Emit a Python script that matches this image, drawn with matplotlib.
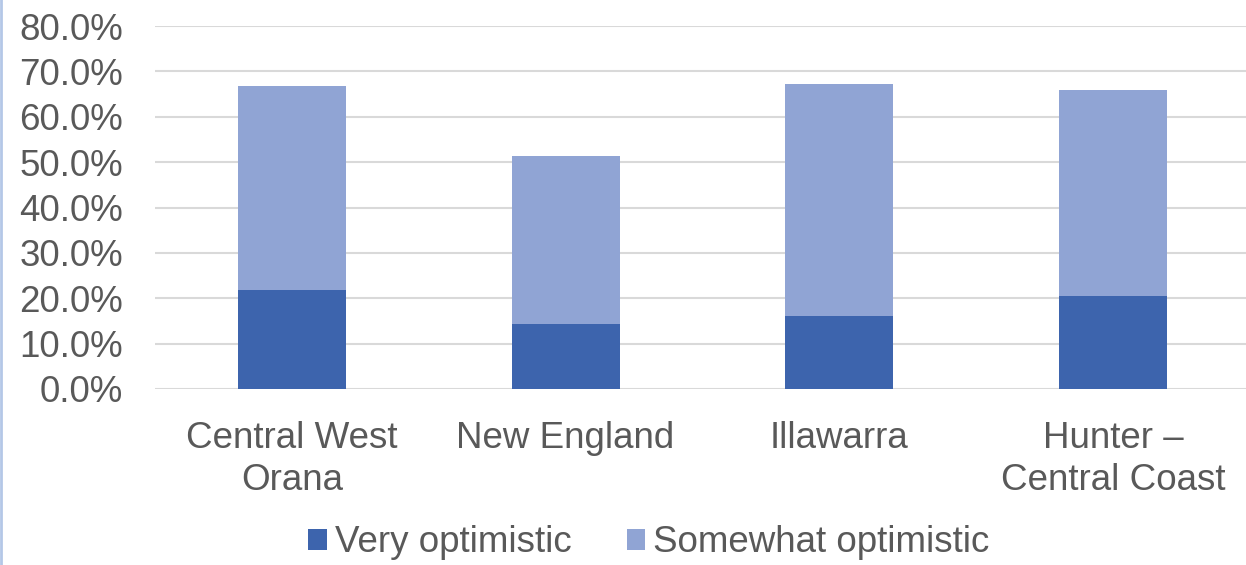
import matplotlib
matplotlib.use("Agg")
import matplotlib.pyplot as plt
from matplotlib.patches import Patch
from matplotlib.lines import Line2D
from matplotlib.ticker import PercentFormatter, MultipleLocator

# Data
regions = ["Central West\nOrana", "New England", "Illawarra", "Hunter \u2013\nCentral Coast"]
very_optimistic = [0.218, 0.143, 0.161, 0.205]
somewhat_optimistic = [0.449, 0.370, 0.511, 0.454]
series_names = ["Very optimistic", "Somewhat optimistic"]

DARK = "#3D64AD"
LIGHT = "#90A4D4"
TEXT = "#595959"
GRID = "#D9D9D9"
FS = 26.5

plt.rcParams["font.family"] = ["Liberation Sans", "DejaVu Sans"]

fig = plt.figure(figsize=(12.46, 5.65), dpi=100)
ax = fig.add_axes([155 / 1246, 1 - 389 / 565, (1246 - 155) / 1246, (389 - 26) / 565])

x = list(range(len(regions)))
ax.bar(x, very_optimistic, width=0.395, color=DARK, zorder=3)
ax.bar(x, somewhat_optimistic, width=0.395, bottom=very_optimistic, color=LIGHT, zorder=3)

ax.set_xlim(-0.5, 3.486)
ax.set_ylim(0, 0.8)
ax.yaxis.set_major_locator(MultipleLocator(0.1))
ax.yaxis.set_major_formatter(PercentFormatter(1.0, decimals=1))
ax.grid(axis="y", color=GRID, linewidth=1.5, zorder=0)
ax.set_axisbelow(True)
for s in ax.spines.values():
    s.set_visible(False)

ax.set_xticks(x)
ax.set_xticklabels(regions, fontsize=FS, color=TEXT, linespacing=1.27)
ax.tick_params(axis="x", length=0, pad=23)
ax.tick_params(axis="y", length=0, pad=23, labelsize=FS, labelcolor=TEXT)

handles = [Patch(facecolor=DARK), Patch(facecolor=LIGHT)]
fig.legend(handles, series_names, loc="center", bbox_to_anchor=(649 / 1246, 1 - 543 / 565),
           ncol=2, frameon=False, fontsize=FS, labelcolor=TEXT,
           handlelength=0.5, handleheight=0.5, handletextpad=0.22, columnspacing=1.5,
           borderpad=0.1)

# thin bluish border at the left edge of the original image
fig.add_artist(Line2D([0.001, 0.001], [0, 1], transform=fig.transFigure, color="#B4C7E7", linewidth=2))

fig.savefig("out.png", dpi=100)
